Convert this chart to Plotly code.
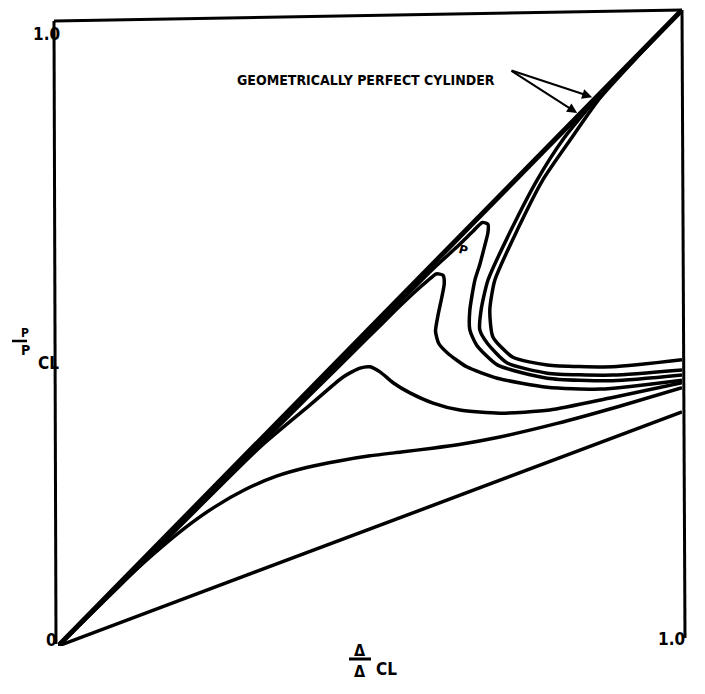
import plotly.graph_objects as go

# Load-shortening curves: P/P_CL against Δ/Δ_CL
diag_x = [0.0, 1.0]
diag_y = [0.0, 1.0]

straight_x = [0.0, 1.0]
straight_y = [0.0, 0.368]

sig_x = [0.0, 0.05, 0.10, 0.15, 0.20, 0.25, 0.30, 0.35, 0.40, 0.45, 0.50, 0.55, 0.60, 0.65, 0.70, 0.80, 0.90, 1.0]
sig_y = [0.0, 0.049, 0.097, 0.142, 0.183, 0.218, 0.246, 0.267, 0.281, 0.291, 0.299, 0.305, 0.311, 0.318, 0.327, 0.350, 0.377, 0.406]

hump_x = [0.0, 0.10, 0.20, 0.324, 0.404, 0.457, 0.484, 0.500, 0.516, 0.537, 0.564, 0.601, 0.644, 0.708, 0.788, 0.885, 1.0]
hump_y = [0.0, 0.096, 0.193, 0.313, 0.379, 0.423, 0.437, 0.439, 0.431, 0.414, 0.398, 0.382, 0.371, 0.366, 0.371, 0.390, 0.414]

spk1_x = [0.0, 0.20, 0.40, 0.50, 0.54, 0.57, 0.592, 0.606, 0.617, 0.619, 0.615, 0.609, 0.605, 0.610, 0.625, 0.655, 0.704, 0.784, 0.869, 1.0]
spk1_y = [0.0, 0.195, 0.391, 0.488, 0.527, 0.555, 0.574, 0.585, 0.583, 0.570, 0.548, 0.520, 0.495, 0.476, 0.460, 0.439, 0.421, 0.407, 0.404, 0.418]

spk2_x = [0.0, 0.30, 0.60, 0.64, 0.665, 0.680, 0.689, 0.689, 0.684, 0.676, 0.668, 0.660, 0.660, 0.671, 0.704, 0.784, 0.889, 1.0]
spk2_y = [0.0, 0.295, 0.592, 0.628, 0.652, 0.666, 0.663, 0.650, 0.630, 0.600, 0.575, 0.528, 0.497, 0.473, 0.442, 0.421, 0.417, 0.426]

uout_x = [1.0, 0.93, 0.864, 0.809, 0.768, 0.726, 0.689, 0.678, 0.676, 0.688, 0.720, 0.784, 0.889, 1.0]
uout_y = [1.0, 0.929, 0.862, 0.796, 0.733, 0.654, 0.575, 0.528, 0.497, 0.476, 0.445, 0.429, 0.426, 0.434]

uin_x = [1.0, 0.93, 0.868, 0.821, 0.777, 0.736, 0.700, 0.692, 0.697, 0.729, 0.784, 0.889, 1.0]
uin_y = [1.0, 0.928, 0.861, 0.796, 0.733, 0.654, 0.575, 0.528, 0.486, 0.454, 0.442, 0.439, 0.450]

# pixel geometry of the plotting box
W, H = 705, 694
L, R, T, B = 58, 682, 10, 646


def px(xp):
    return (xp - L) / (R - L)


def py(yp):
    return (B - yp) / (B - T)


fig = go.Figure()

line_style = dict(color="black", width=3.5, shape="spline", smoothing=0.6)
for xs, ys in [(straight_x, straight_y), (sig_x, sig_y), (hump_x, hump_y),
               (spk1_x, spk1_y), (spk2_x, spk2_y), (uout_x, uout_y), (uin_x, uin_y)]:
    fig.add_trace(go.Scatter(x=xs, y=ys, mode="lines", line=line_style,
                             hoverinfo="skip", showlegend=False))

fig.add_trace(go.Scatter(x=diag_x, y=diag_y, mode="lines",
                         line=dict(color="black", width=5),
                         hoverinfo="skip", showlegend=False))

# frame: left, top and right edges
frame = dict(type="line", xref="paper", yref="paper", line=dict(color="black", width=3))
fig.add_shape(**frame, x0=px(56), y0=py(644), x1=px(54), y1=py(21))
fig.add_shape(**frame, x0=px(54), y0=py(21), x1=px(682), y1=py(10))
fig.add_shape(**frame, x0=px(682), y0=py(10), x1=px(685), y1=py(638))

cond = "DejaVu Sans Condensed, DejaVu Sans, sans-serif"
lab_font = dict(family=cond, size=17, color="black", weight="bold")
ann = []
ann.append(dict(x=px(31), y=py(22), text="1.0", font=lab_font))
ann.append(dict(x=px(44), y=py(652), text="0", font=lab_font))
ann.append(dict(x=px(687), y=py(651), text="1.0", font=lab_font))

# y-axis label P / P_CL
small = dict(family=cond, size=12, color="black", weight="bold")
mid = dict(family=cond, size=17, color="black", weight="bold")
ann.append(dict(x=px(19), y=py(333), text="P", font=small))
ann.append(dict(x=px(19), y=py(350), text="P", font=dict(family=cond, size=14, color="black", weight="bold")))
ann.append(dict(x=px(36), y=py(363), text="CL", font=mid))
fig.add_shape(type="line", xref="paper", yref="paper", x0=px(12), x1=px(27),
              y0=py(341), y1=py(341), line=dict(color="black", width=2.5))

# x-axis label Δ / Δ_CL
delta_font = dict(family=cond, size=16, color="black", weight="bold")
ann.append(dict(x=px(360), y=py(662), text="Δ", font=delta_font, yanchor="bottom"))
ann.append(dict(x=px(360), y=py(660), text="Δ", font=delta_font, yanchor="top"))
ann.append(dict(x=px(386), y=py(681), text="CL", font=mid))
fig.add_shape(type="line", xref="paper", yref="paper", x0=px(349), x1=px(371),
              y0=py(659), y1=py(659), line=dict(color="black", width=3))

# curve label and arrows
ann.append(dict(x=px(497), y=py(70), text="GEOMETRICALLY PERFECT CYLINDER",
                xanchor="right", font=dict(family=cond, size=14, color="black", weight="bold")))
ann.append(dict(x=px(463), y=py(250), text="P", textangle=15,
                font=dict(family="DejaVu Sans, sans-serif", size=12, color="black", weight="bold")))
for a in ann:
    a.update(xref="paper", yref="paper", showarrow=False)
    fig.add_annotation(**a)

for tx, ty in [(0.856, 0.863), (0.832, 0.838)]:
    fig.add_annotation(x=tx, y=ty, ax=px(510), ay=py(70), xref="x", yref="y",
                       axref="x", ayref="y", text="", showarrow=True,
                       arrowhead=2, arrowsize=1, arrowwidth=2, arrowcolor="black")

fig.update_xaxes(range=[0, 1], visible=False)
fig.update_yaxes(range=[0, 1], visible=False)
fig.update_layout(width=W, height=H, margin=dict(l=L, r=W - R, t=T, b=H - B),
                  paper_bgcolor="white", plot_bgcolor="white")

fig.write_html("out.html")
